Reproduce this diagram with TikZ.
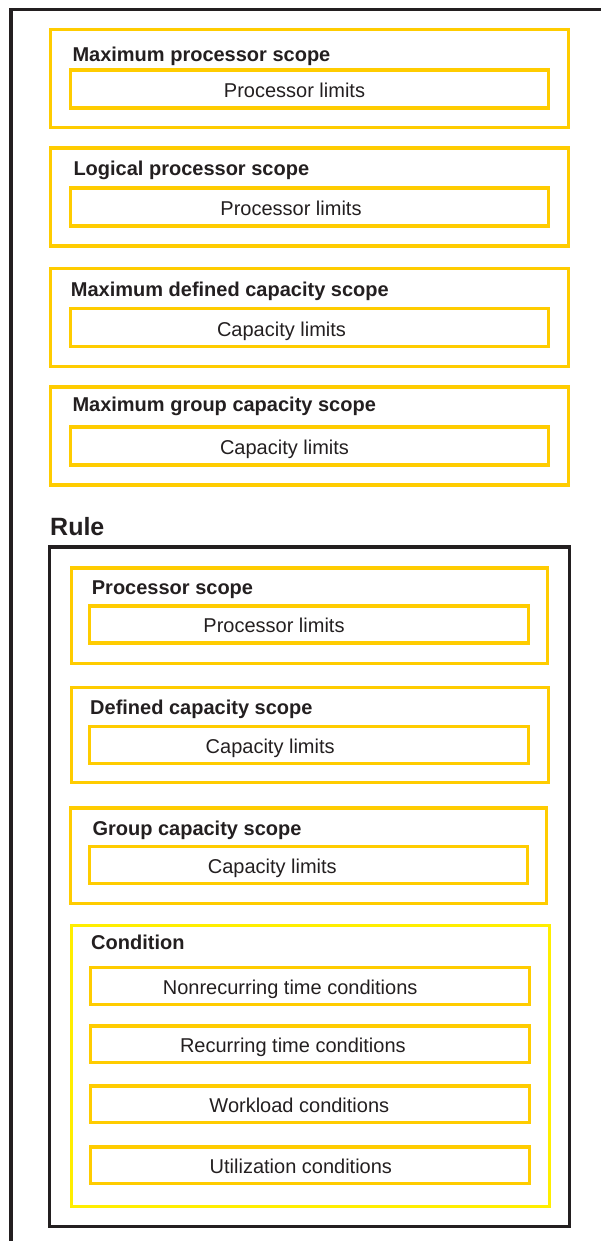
\documentclass[tikz,border=0pt]{standalone}
\usepackage{fontspec}
\setmainfont{Liberation Sans}
\usetikzlibrary{positioning}
\definecolor{scopegold}{HTML}{FFCC00}
\definecolor{condyellow}{HTML}{FFEE00}
\definecolor{framegray}{HTML}{231F20}

\begin{document}
\begin{tikzpicture}[
    x=1pt, y=-1pt,
 scopebox/.style = {
        draw=scopegold, line width=3.2pt, rectangle, anchor=north west,
        inner sep=0pt, outer sep=0pt,
        minimum width=518pt, minimum height=98pt},
 limitbox/.style = {
        draw=scopegold, line width=3.2pt, rectangle, anchor=north west,
        inner sep=0pt, outer sep=0pt,
        minimum width=478pt, minimum height=38pt},
 rulebox/.style = {
        draw=framegray, line width=3.2pt, rectangle, anchor=north west,
        inner sep=0pt, outer sep=0pt},
 scopetitle/.style = {
        anchor=base west, inner sep=0pt, text=framegray,
        font=\fontsize{20}{24}\selectfont\bfseries},
 limittext/.style = {
        anchor=base, yshift=-8.4pt, inner sep=0pt, text=framegray,
        font=\fontsize{20}{24}\selectfont}
                    ]
\useasboundingbox (0,0) rectangle (601,1241);
% the open frame
\coordinate (fb) at (10.8,1241);
\coordinate (fr) at (601,9.5);
\draw[framegray, line width=3.5pt] (fb) |- (fr);

% the scopes at the top
\node (mps) [scopebox] at (50.5,29.5) {};
\node (mpst) [scopetitle] at ([shift={(21.8pt,-32.2pt)}]mps.north west)
                                    {Maximum processor scope};
\node (mpsl) [limitbox, below right=40.5pt and 20.3pt of mps.north west] {};
\node (mpsx) [limittext] at ([xshift=-15.3pt]mpsl.center) {Processor limits};

\node (lps) [scopebox] at (50.5,148) {};
\node (lpst) [scopetitle] at ([shift={(22.8pt,-27.7pt)}]lps.north west)
                                    {Logical processor scope};
\node (lpsl) [limitbox, below right=40pt and 20.3pt of lps.north west] {};
\node (lpsx) [limittext] at ([xshift=-18.8pt]lpsl.center) {Processor limits};

\node (mdcs) [scopebox] at (50.5,268.5) {};
\node (mdcst) [scopetitle] at ([shift={(20.2pt,-28.2pt)}]mdcs.north west)
                                    {Maximum defined capacity scope};
\node (mdcsl) [limitbox, below right=40.2pt and 20.3pt of mdcs.north west] {};
\node (mdcsx) [limittext] at ([xshift=-28.3pt]mdcsl.center) {Capacity limits};

\node (mgcs) [scopebox] at (50.5,387) {};
\node (mgcst) [scopetitle] at ([shift={(21.8pt,-24.7pt)}]mgcs.north west)
                                    {Maximum group capacity scope};
\node (mgcsl) [limitbox, below right=40pt and 20.3pt of mgcs.north west] {};
\node (mgcsx) [limittext] at ([xshift=-25.3pt]mgcsl.center) {Capacity limits};

% the rule
\node (rule) [scopetitle, font=\fontsize{25}{30}\selectfont\bfseries]
                                    at (50,535) {Rule};
\node (rbox) [rulebox, minimum width=520.4pt, minimum height=679.3pt]
                                    at (49.3,547) {};

    \begin{scope}[scopebox/.append style={minimum width=476pt, minimum height=95.7pt},
                  limitbox/.append style={minimum width=439pt, minimum height=37pt}]
\node (ps) [scopebox] at (71.3,568) {};
\node (pst) [scopetitle] at ([shift={(20.4pt,-26.3pt)}]ps.north west)
                                    {Processor scope};
\node (psl) [limitbox, below right=38pt and 18.4pt of ps.north west] {};
\node (psx) [limittext] at ([xshift=-35.2pt]psl.center) {Processor limits};

\node (dcs) [scopebox, minimum width=477pt, minimum height=95pt] at (71.3,687.7) {};
\node (dcst) [scopetitle] at ([shift={(18.7pt,-26.6pt)}]dcs.north west)
                                    {Defined capacity scope};
\node (dcsl) [limitbox, below right=38.6pt and 18.4pt of dcs.north west] {};
\node (dcsx) [limittext] at ([xshift=-39pt]dcsl.center) {Capacity limits};

\node (gcs) [scopebox] at (70.7,808) {};
\node (gcst) [scopetitle] at ([shift={(21.6pt,-27pt)}]gcs.north west)
                                    {Group capacity scope};
\node (gcsl) [limitbox, minimum width=438pt, below right=38.7pt and 18.6pt of gcs.north west] {};
\node (gcsx) [limittext] at ([xshift=-36pt]gcsl.center) {Capacity limits};
    \end{scope}

% the condition
\node (cond) [scopebox, draw=condyellow, minimum width=478pt, minimum height=281pt]
                                    at (71.3,925.3) {};
\node (condt) [scopetitle] at ([shift={(19.7pt,-24pt)}]cond.north west) {Condition};
    \begin{scope}[limitbox/.append style={minimum width=438.5pt, minimum height=36.7pt}]
\node (nrc) [limitbox] at (90.6,967.7) {};
\node (nrcx) [limittext] at ([xshift=-19.7pt]nrc.center) {Nonrecurring time conditions};
\node (rc) [limitbox] at (90.6,1026) {};
\node (rcx) [limittext] at ([xshift=-17pt]rc.center) {Recurring time conditions};
\node (wlc) [limitbox] at (90.6,1086) {};
\node (wlcx) [limittext] at ([xshift=-10.5pt]wlc.center) {Workload conditions};
\node (utc) [limitbox] at (90.6,1147) {};
\node (utcx) [limittext] at ([xshift=-9pt]utc.center) {Utilization conditions};
    \end{scope}
\end{tikzpicture}
\end{document}
